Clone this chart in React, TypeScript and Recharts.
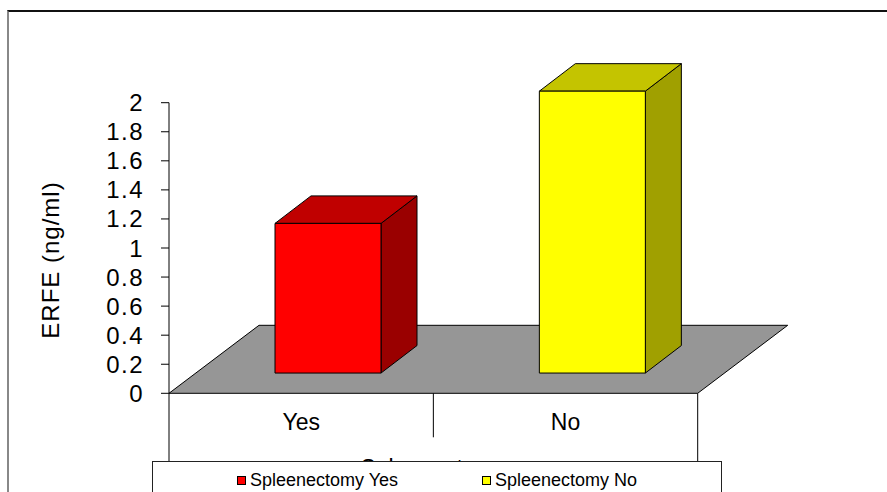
import React from "react";
import { BarChart, Bar, XAxis, YAxis, Legend, Label, ReferenceArea } from "recharts";

const categories = ["Yes", "No"];
const erfeValues = [1.03, 1.94];
const legendLabels = ["Spleenectomy Yes", "Spleenectomy No"];
const yTicks = [0, 0.2, 0.4, 0.6, 0.8, 1, 1.2, 1.4, 1.6, 1.8, 2];

const frontColors = ["#FF0000", "#FFFF00"];
const topColors = ["#C00000", "#C4C400"];
const sideColors = ["#9A0000", "#A0A000"];

const data = categories.map((c, i) => ({ group: c, erfe: erfeValues[i] }));

// fake 3d: depth of the floor and of each box, in px
const FLOOR_DX = 90;
const FLOOR_DY = 68;
const BAR_DX = 36;
const BAR_DY = 27.5;

const Box3D = (props: any) => {
  const { x, y, width, height, index } = props;
  const fx = x + (FLOOR_DX - BAR_DX) / 2;
  const fy = y - (FLOOR_DY - BAR_DY) / 2;
  const fb = fy + height;
  const fr = fx + width;
  return (
    <g stroke="#000" strokeWidth={1} strokeLinejoin="round">
      <polygon
        points={`${fr},${fy} ${fr + BAR_DX},${fy - BAR_DY} ${fr + BAR_DX},${fb - BAR_DY} ${fr},${fb}`}
        fill={sideColors[index]}
      />
      <polygon
        points={`${fx},${fy} ${fx + BAR_DX},${fy - BAR_DY} ${fr + BAR_DX},${fy - BAR_DY} ${fr},${fy}`}
        fill={topColors[index]}
      />
      <rect x={fx} y={fy} width={width} height={height} fill={frontColors[index]} />
    </g>
  );
};

const Floor = (props: any) => {
  const { x, y, width, height } = props;
  const by = y + height;
  const rx = x + width;
  return (
    <g>
      <polygon
        points={`${x},${by} ${x + FLOOR_DX},${by - FLOOR_DY} ${rx + FLOOR_DX},${by - FLOOR_DY} ${rx},${by}`}
        fill="#969696"
        stroke="#000"
        strokeWidth={1}
      />
      <line x1={x} y1={by} x2={x} y2={by + 75} stroke="#000" />
      <line x1={x + width / 2} y1={by} x2={x + width / 2} y2={by + 44} stroke="#000" />
      <line x1={rx} y1={by} x2={rx} y2={by + 75} stroke="#000" />
    </g>
  );
};

const renderLegend = () => (
  <div
    style={{
      boxSizing: "border-box",
      width: "100%",
      height: "100%",
      border: "1px solid #222",
      background: "#fff",
      display: "flex",
      justifyContent: "center",
      gap: 84,
      paddingTop: 8,
      fontSize: 18,
      color: "#000",
    }}
  >
    {legendLabels.map((label, i) => (
      <div key={label} style={{ display: "flex", alignItems: "center", height: 20 }}>
        <span
          style={{
            boxSizing: "border-box",
            display: "inline-block",
            width: 9,
            height: 9,
            border: "1px solid #000",
            background: frontColors[i],
            marginRight: 4,
          }}
        />
        {label}
      </div>
    ))}
  </div>
);

const YTitle = (props: any) => {
  const { viewBox } = props;
  const cx = viewBox.x + 31;
  const cy = viewBox.y + viewBox.height / 2 + 12;
  return (
    <text
      x={cx}
      y={cy}
      transform={`rotate(-90, ${cx}, ${cy})`}
      textAnchor="middle"
      dominantBaseline="central"
      fontSize={24}
      letterSpacing={1}
      fill="#000"
    >
      ERFE (ng/ml)
    </text>
  );
};

export default function App() {
  return (
    <div
      style={{
        position: "absolute",
        left: 0,
        top: 0,
        width: 887,
        height: 492,
        overflow: "hidden",
        fontFamily: "'Liberation Sans', Arial, sans-serif",
        background: "#fff",
      }}
    >
      <div
        style={{
          position: "absolute",
          left: 7,
          top: 10,
          width: 900,
          height: 500,
          borderTop: "2px solid #111",
          borderLeft: "2px solid #888",
        }}
      />
      <BarChart
        width={887}
        height={492}
        data={data}
        margin={{ top: 102.7, right: 189.3, left: 19, bottom: 58.7 }}
      >
        <ReferenceArea y1={0} y2={0.2} shape={<Floor />} ifOverflow="visible" />
        <XAxis
          dataKey="group"
          height={40}
          axisLine={false}
          tickLine={false}
          tickSize={6}
          tickMargin={14}
          tick={{ fill: "#000", fontSize: 23 }}
        >
          <Label value="Spleenectomy" position="bottom" offset={26} fill="#000" fontSize={23} />
        </XAxis>
        <YAxis
          width={150}
          domain={[0, 2]}
          ticks={yTicks}
          interval={0}
          tickSize={8}
          tickMargin={17}
          axisLine={{ stroke: "#000" }}
          tickLine={{ stroke: "#000" }}
          tick={{ fill: "#000", fontSize: 24, letterSpacing: 1.5 }}
          label={<YTitle />}
        />
        <Legend
          layout="horizontal"
          verticalAlign="middle"
          align="center"
          wrapperStyle={{ position: "absolute", left: 152, top: 461, width: 570, height: 40 }}
          content={renderLegend}
        />
        <Bar dataKey="erfe" barSize={106} shape={<Box3D />} isAnimationActive={false} />
      </BarChart>
    </div>
  );
}
